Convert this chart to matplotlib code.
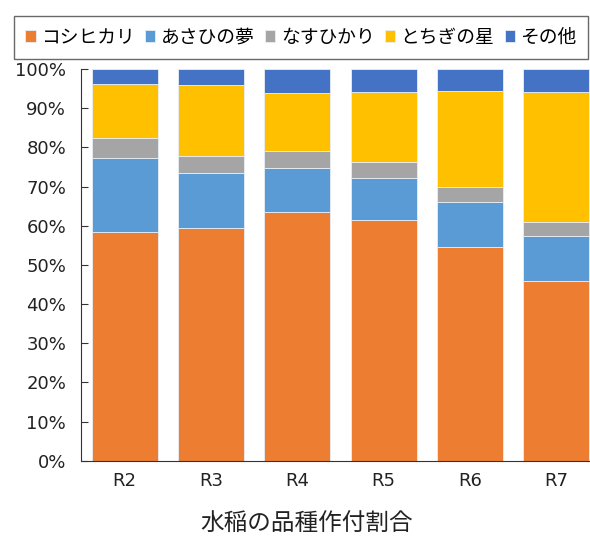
import numpy as np
import matplotlib
matplotlib.use("Agg")
import matplotlib.pyplot as plt

plt.rcParams['font.family'] = ['Noto Sans CJK JP', 'DejaVu Sans']

# 年度
years = ["R2", "R3", "R4", "R5", "R6", "R7"]

# 品種ごとの作付割合 (%)
koshihikari = [58.3, 59.5, 63.5, 61.4, 54.5, 45.9]
asahinoyume = [18.9, 13.9, 11.3, 10.8, 11.5, 11.4]
nasuhikari = [5.1, 4.5, 4.3, 4.0, 3.8, 3.6]
tochiginohoshi = [13.9, 17.9, 14.8, 17.9, 24.6, 33.3]
sonota = [3.8, 4.2, 6.1, 5.9, 5.6, 5.8]

names = ["コシヒカリ", "あさひの夢", "なすひかり", "とちぎの星", "その他"]
colors = ["#ED7D31", "#5B9BD5", "#A5A5A5", "#FFC000", "#4472C4"]
series = [koshihikari, asahinoyume, nasuhikari, tochiginohoshi, sonota]

fig = plt.figure(figsize=(5.9, 5.36), dpi=100)
ax = fig.add_axes([81.5 / 590, 1 - 460.7 / 536, 518 / 590, (460.7 - 69) / 536])

x = np.arange(len(years))
bottom = np.zeros(len(years))
for name, vals, c in zip(names, series, colors):
    v = np.array(vals) / 100
    ax.bar(x, v, width=0.764, bottom=bottom, color=c, label=name,
           edgecolor="#E8EEF6", linewidth=0.6)
    bottom += v

ax.set_xlim(-0.5, len(years) - 0.5)
ax.set_ylim(0, 1)
yt = np.arange(0, 1.01, 0.1)
ax.set_yticks(yt)
ax.set_yticklabels([f"{int(round(t * 100))}%" for t in yt], family="DejaVu Sans")
ax.set_xticks(x)
ax.set_xticklabels(years, family="DejaVu Sans")

ax.spines['top'].set_visible(False)
ax.spines['right'].set_visible(False)
ax.spines['left'].set_color("#333333")
ax.spines['bottom'].set_color("#333333")
ax.tick_params(axis='y', direction='in', length=5, width=0.8, color="#333333",
               labelsize=13, labelcolor="#222222", pad=11)
ax.tick_params(axis='x', length=0, labelsize=13, labelcolor="#222222", pad=8)

fig.text(307 / 590, 1 - 524 / 536, "水稲の品種作付割合", fontsize=17,
         color="#222222", ha="center", va="center")

leg = fig.legend(loc="lower left", ncol=5, mode="expand",
                 bbox_to_anchor=(14 / 590, 1 - 59 / 536, 574 / 590, 46 / 536),
                 borderaxespad=0, fontsize=13.5, handlelength=0.55,
                 handleheight=0.55, handletextpad=0.3, columnspacing=0.8,
                 borderpad=0.6, fancybox=False, frameon=True)
leg.get_frame().set_edgecolor("#444444")
leg.get_frame().set_linewidth(1.0)

fig.savefig("out.png", dpi=100)
